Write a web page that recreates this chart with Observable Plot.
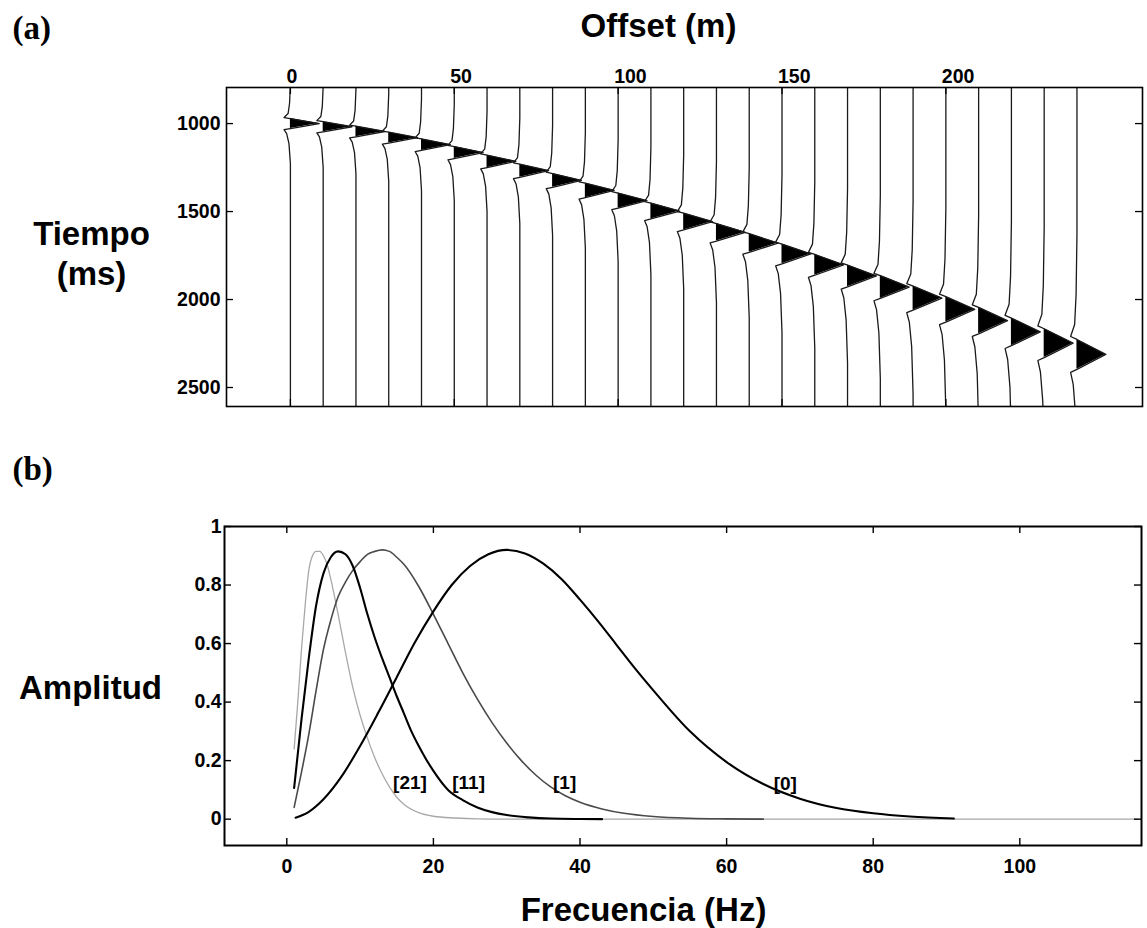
<!DOCTYPE html>
<html><head><meta charset="utf-8">
<script src="https://cdn.jsdelivr.net/npm/d3@7"></script>
<script src="https://cdn.jsdelivr.net/npm/@observablehq/plot@0.6"></script>
<style>
body{margin:0;background:#fff;}
#chart{width:1147px;height:928px;position:relative;background:#fff;}
#chart svg{display:block;}
</style></head><body><div id="chart"></div>
<script>
// ---------- Panel (a): seismic gather ----------
const offsets = [0,10,20,30,40,50,60,70,80,90,100,110,120,130,140,150,160,170,180,190,200,210,220,230,240];
const eventTimes = [1000,1018,1045,1080,1120,1165,1215,1268,1323,1380,1438,1497,1557,1618,1679,1741,1803,1866,1929,1992,2056,2120,2184,2248,2312];
const pulseWidths = [57,58,60,62,65,68,71,75,78,82,86,90,95,100,106,112,118,124,130,137,144,150,157,164,170];
// wavelet shape: time in units of the main-lobe width, amplitude normalised to the peak
const waveletTau = [-4.0,-2.0,-1.0,-0.6,-0.5,0,0.5,0.6,1.0,2.0,4.0];
const waveletAmp = [0,-0.03,-0.08,-0.22,0,1,0,-0.22,-0.13,-0.05,0];
const traceAmplitude = 8.8; // metres of offset per unit amplitude
const offsetTicks = [0,50,100,150,200];
const timeTicks = [1000,1500,2000,2500];

// ---------- Panel (b): amplitude spectra ----------
const spec0Freq = [1.2,3,5,7.5,10,12.5,15,17.5,20,22.5,25,27.5,30,32.5,35,37.5,40,42.5,45,47.5,50,55,60,65,70,75,80,85,91];
const spec0Amp  = [0.005,0.025,0.068,0.147,0.25,0.365,0.485,0.605,0.71,0.80,0.865,0.905,0.92,0.908,0.873,0.82,0.75,0.675,0.595,0.515,0.44,0.30,0.195,0.12,0.07,0.038,0.02,0.009,0.002];
const spec1Freq = [1,2,3,4,5,6,7,8,9,10,11,12,13,14,15,16,18,20,22,24,26,28,30,32,34,36,38,40,43,46,50,55,60,65];
const spec1Amp  = [0.04,0.16,0.29,0.44,0.58,0.68,0.76,0.81,0.85,0.88,0.905,0.915,0.92,0.915,0.895,0.87,0.795,0.70,0.60,0.50,0.41,0.33,0.26,0.20,0.15,0.11,0.08,0.058,0.035,0.02,0.009,0.003,0.001,0];
const spec11Freq = [1,2,3,4,5,6,7,8,9,10,11,12,13,14,15,16,17,18,19,20,22,24,26,28,30,33,36,40,43];
const spec11Amp  = [0.107,0.34,0.55,0.73,0.84,0.895,0.915,0.905,0.865,0.79,0.70,0.62,0.55,0.485,0.42,0.36,0.30,0.25,0.205,0.165,0.10,0.065,0.04,0.024,0.014,0.006,0.002,0.0005,0];
const spec21Freq = [1,1.5,2,2.5,3,3.5,4,4.5,5,5.5,6,7,8,9,10,11,12,13,14,15,16,18,20,23,26,30,116];
const spec21Amp  = [0.24,0.40,0.58,0.73,0.85,0.90,0.915,0.915,0.90,0.87,0.82,0.70,0.57,0.45,0.355,0.277,0.21,0.155,0.11,0.075,0.05,0.022,0.01,0.004,0.001,0,0];
const specLabels = ["[21]","[11]","[1]","[0]"];
const specLabelFreq = [16.8,24.8,37.9,68];
const specLabelAmp = [0.125,0.125,0.125,0.12];
const freqTicks = [0,20,40,60,80,100];
const ampTicks = [0,0.2,0.4,0.6,0.8,1];

// ---------- build ----------
const FONT = "'Liberation Sans', Arial, Helvetica, sans-serif";
const W = 1147;
const tDomain = [795, 2608];
const TICKFONT = 19.5;

const tracePts = [];
offsets.forEach((off, i) => {
  tracePts.push({trace: i, t: tDomain[0], x: off, x0: off});
  waveletTau.forEach((tau, k) => {
    tracePts.push({trace: i, t: eventTimes[i] + tau * pulseWidths[i], x: off + traceAmplitude * waveletAmp[k], x0: off});
  });
  tracePts.push({trace: i, t: tDomain[1], x: off, x0: off});
});

function txt(s, o) {
  return Plot.text([s], Object.assign({frameAnchor: "top-left", text: d => d, fill: "#000", fontFamily: FONT}, o));
}

const aH = 440, aTop = 87, aBottom = 406, aLeft = 226, aRight = 1142;
const aInnerH = aBottom - aTop, aInnerW = aRight - aLeft;
const plotA = Plot.plot({
  width: W, height: aH,
  marginTop: aTop, marginBottom: aH - aBottom, marginLeft: aLeft, marginRight: W - aRight,
  x: {domain: [-19.5, 260]},
  y: {domain: tDomain, reverse: true},
  style: {fontFamily: FONT, fontSize: TICKFONT + "px", fontWeight: "bold", color: "#000", background: "#fff"},
  marks: [
    Plot.areaX(tracePts, {y: "t", x1: "x0", x2: d => Math.max(d.x, d.x0), z: "trace", fill: "#000", clip: true}),
    Plot.line(tracePts, {x: "x", y: "t", z: "trace", stroke: "#1a1a1a", strokeWidth: 1.3, clip: true}),
    Plot.frame({stroke: "#000", strokeWidth: 1.6}),
    Plot.tickY(timeTicks, {y: d => d, insetRight: aInnerW - 7, stroke: "#000", strokeWidth: 1.3}),
    Plot.tickY(timeTicks, {y: d => d, insetLeft: aInnerW - 7, stroke: "#000", strokeWidth: 1.3}),
    Plot.tickX(offsetTicks, {x: d => d, insetBottom: aInnerH - 7, stroke: "#000", strokeWidth: 1.3}),
    Plot.tickX(offsetTicks, {x: d => d, insetTop: aInnerH - 7, stroke: "#000", strokeWidth: 1.3}),
    Plot.axisX(offsetTicks, {anchor: "top", tickSize: 0, tickPadding: 5, textAnchor: "start", dx: -4, label: null, fontSize: TICKFONT, fontWeight: "bold"}),
    Plot.axisY(timeTicks, {anchor: "left", tickSize: 0, tickPadding: 6, label: null, fontSize: TICKFONT, fontWeight: "bold", tickFormat: d => String(d)}),
    txt("(a)", {dx: 12 - aLeft, dy: 38 - aTop, textAnchor: "start", lineAnchor: "bottom", fontSize: 33, fontWeight: "bold", fontFamily: "'Liberation Serif', 'Times New Roman', serif"}),
    txt("Offset (m)", {dx: 658 - aLeft, dy: 36 - aTop, textAnchor: "middle", lineAnchor: "bottom", fontSize: 33, fontWeight: "bold"}),
    txt("Tiempo", {dx: 91 - aLeft, dy: 244 - aTop, textAnchor: "middle", lineAnchor: "bottom", fontSize: 33, fontWeight: "bold"}),
    txt("(ms)", {dx: 91 - aLeft, dy: 284 - aTop, textAnchor: "middle", lineAnchor: "bottom", fontSize: 33, fontWeight: "bold"})
  ]
});

const spectra = [
  {freq: spec21Freq, amp: spec21Amp, stroke: "#a8a8a8", width: 1.3},
  {freq: spec1Freq, amp: spec1Amp, stroke: "#4a4a4a", width: 1.6},
  {freq: spec11Freq, amp: spec11Amp, stroke: "#000", width: 2.1},
  {freq: spec0Freq, amp: spec0Amp, stroke: "#000", width: 2.1}
];

const bH = 488, bTop = 86, bBottom = 405, bLeft = 224, bRight = 1141, bOff = 440;
const bInnerH = bBottom - bTop, bInnerW = bRight - bLeft;
const labelData = specLabels.map((s, i) => ({s, f: specLabelFreq[i], a: specLabelAmp[i]}));
const plotB = Plot.plot({
  width: W, height: bH,
  marginTop: bTop, marginBottom: bH - bBottom, marginLeft: bLeft, marginRight: W - bRight,
  x: {domain: [-8.5, 116.6]},
  y: {domain: [-0.09, 1.0]},
  style: {fontFamily: FONT, fontSize: TICKFONT + "px", fontWeight: "bold", color: "#000", background: "#fff"},
  marks: [
    ...spectra.map(s => Plot.line(s.freq.map((f, i) => ({f, a: s.amp[i]})), {x: "f", y: "a", stroke: s.stroke, strokeWidth: s.width, curve: "monotone-x", clip: true})),
    Plot.text(labelData, {x: "f", y: "a", text: "s", fontSize: 19, fontWeight: "bold", fill: "#000", fontFamily: FONT}),
    Plot.frame({stroke: "#000", strokeWidth: 2}),
    Plot.tickX(freqTicks, {x: d => d, insetTop: bInnerH - 7, stroke: "#000", strokeWidth: 1.4}),
    Plot.tickX(freqTicks, {x: d => d, insetBottom: bInnerH - 7, stroke: "#000", strokeWidth: 1.4}),
    Plot.tickY(ampTicks, {y: d => d, insetRight: bInnerW - 7, stroke: "#000", strokeWidth: 1.4}),
    Plot.tickY(ampTicks, {y: d => d, insetLeft: bInnerW - 7, stroke: "#000", strokeWidth: 1.4}),
    Plot.axisX(freqTicks, {anchor: "bottom", tickSize: 0, tickPadding: 14, label: null, fontSize: TICKFONT, fontWeight: "bold", tickFormat: d => String(d)}),
    Plot.axisY(ampTicks, {anchor: "left", tickSize: 0, tickPadding: 3, label: null, fontSize: TICKFONT, fontWeight: "bold", tickFormat: d => String(d)}),
    txt("(b)", {dx: 12 - bLeft, dy: (479 - bOff) - bTop, textAnchor: "start", lineAnchor: "bottom", fontSize: 33, fontWeight: "bold", fontFamily: "'Liberation Serif', 'Times New Roman', serif"}),
    txt("Amplitud", {dx: 90 - bLeft, dy: (698 - bOff) - bTop, textAnchor: "middle", lineAnchor: "bottom", fontSize: 33, fontWeight: "bold"}),
    txt("Frecuencia (Hz)", {dx: 643 - bLeft, dy: (920 - bOff) - bTop, textAnchor: "middle", lineAnchor: "bottom", fontSize: 33, fontWeight: "bold"})
  ]
});

const chart = document.getElementById("chart");
chart.appendChild(plotA);
chart.appendChild(plotB);
</script></body></html>
